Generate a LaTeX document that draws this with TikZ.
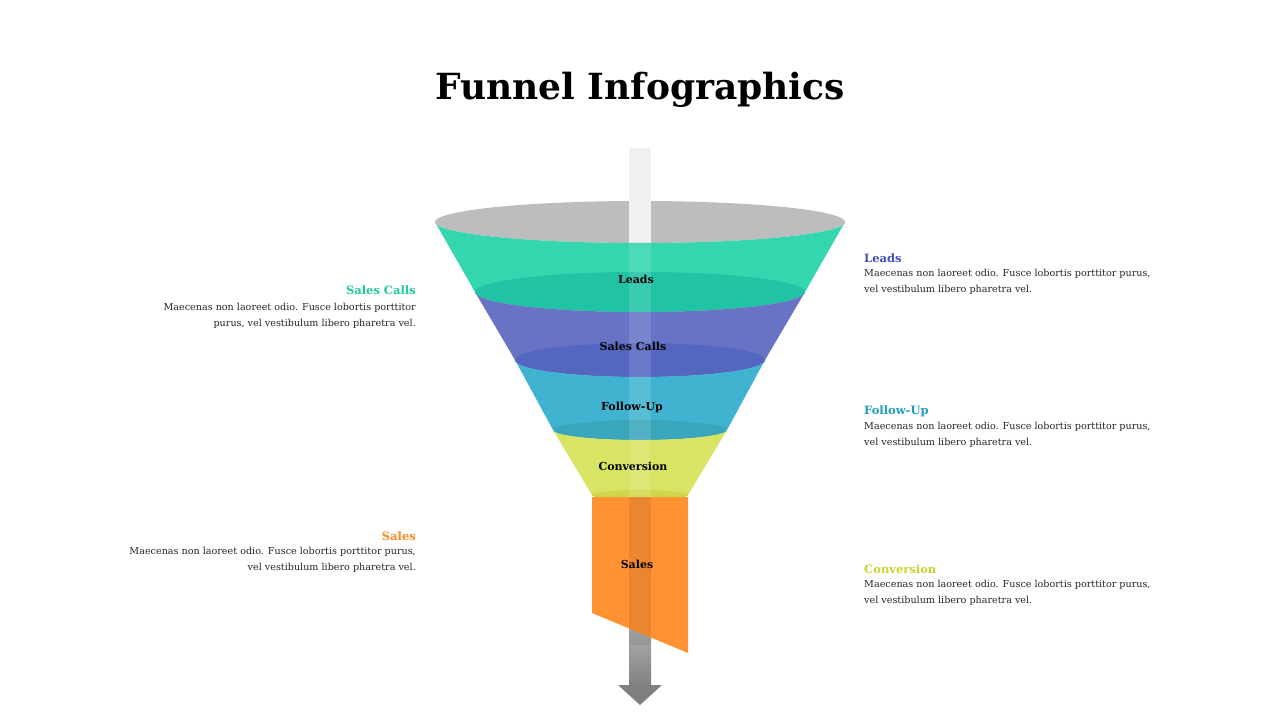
\documentclass[tikz,border=0pt]{standalone}
\usepackage{fontspec}
\setmainfont{DejaVu Serif}
\definecolor{leadsC}{HTML}{34D6B0}
\definecolor{leadsD}{HTML}{20C4A4}
\definecolor{callsC}{HTML}{6873C6}
\definecolor{callsD}{HTML}{5566C0}
\definecolor{followC}{HTML}{40B3D0}
\definecolor{followD}{HTML}{3AA6BC}
\definecolor{convC}{HTML}{D8E464}
\definecolor{convD}{HTML}{D2D64C}
\definecolor{salesC}{HTML}{FF9232}
\definecolor{tCalls}{HTML}{1FCC9E}
\definecolor{tSales}{HTML}{FF8A1E}
\definecolor{tLeads}{HTML}{4050B8}
\definecolor{tFollow}{HTML}{1E9EC0}
\definecolor{tConv}{HTML}{C8D430}
\tikzset{
  stagelabel/.style={font=\bfseries\fontsize{11}{13}\selectfont},
  headR/.style={anchor=west,font=\bfseries\fontsize{11.5}{14}\selectfont},
  headL/.style={anchor=east,font=\bfseries\fontsize{11.5}{14}\selectfont},
  bodyR/.style={anchor=north west,align=left,font=\fontsize{9.6}{16}\selectfont,text=black!85},
  bodyL/.style={anchor=north east,align=right,font=\fontsize{9.6}{16}\selectfont,text=black!85},
}
\newcommand{\lorem}{Maecenas non laoreet odio. Fusce lobortis porttitor purus,\\vel vestibulum libero pharetra vel.}
\begin{document}
\begin{tikzpicture}[x=1pt,y=-1pt,inner sep=0pt]
\useasboundingbox (0,0) rectangle (1280,720);
\fill[white] (0,0) rectangle (1280,720);
\node[font=\bfseries\fontsize{36}{40}\selectfont] (title) at (640,90) {Funnel Infographics};
% bar above and below
\fill[black!6] (629,148) rectangle (651,222);
\shade[top color=black!22,bottom color=black!50] (629,600) rectangle (651,686);
\fill[black!50] (618,685) -- (662,685) -- (640,705) -- cycle;
% top rim
\fill[black!26] (640,222) ellipse[x radius=205,y radius=21];
\fill[black!6] (629,201) rectangle (651,243);
% stages
\fill[leadsC] (435,222) -- (475,292) arc[start angle=180,end angle=0,x radius=165,y radius=20]
  -- (845,222) arc[start angle=0,end angle=180,x radius=205,y radius=21] -- cycle;
\fill[leadsD] (640,292) ellipse[x radius=165,y radius=20];
\fill[callsC] (475,292) -- (515,360) arc[start angle=180,end angle=0,x radius=125,y radius=17]
  -- (765,360) -- (805,292) arc[start angle=0,end angle=180,x radius=165,y radius=20] -- cycle;
\fill[callsD] (640,360) ellipse[x radius=125,y radius=17];
\fill[followC] (515,360) -- (553,430) arc[start angle=180,end angle=0,x radius=87,y radius=10]
  -- (765,360) arc[start angle=0,end angle=180,x radius=125,y radius=17] -- cycle;
\fill[followD] (640,430) ellipse[x radius=87,y radius=10];
\fill[convC] (553,430) -- (592,495) arc[start angle=180,end angle=0,x radius=48,y radius=5]
  -- (727,430) arc[start angle=0,end angle=180,x radius=87,y radius=10] -- cycle;
\fill[convD] (640,495) ellipse[x radius=48,y radius=5];
\fill[salesC] (592,497) -- (688,497) -- (688,653) -- (592,613) -- cycle;
% bar through the funnel
\fill[white,opacity=.12] (629,243) rectangle (651,497);
\fill[black,opacity=.08] (629,497) rectangle (651,645);
% stage labels
\node[stagelabel] (leads) at (636,279) {Leads};
\node[stagelabel] (calls) at (633,346) {Sales Calls};
\node[stagelabel] (follow) at (632,407) {Follow-Up};
\node[stagelabel] (conv) at (633,466) {Conversion};
\node[stagelabel] (sales) at (637,564) {Sales};
% side texts
\node[headL,text=tCalls] (callsHead) at (416,290) {Sales Calls};
\node[bodyL] (callsText) at (416,303) {Maecenas non laoreet odio. Fusce lobortis porttitor\\purus, vel vestibulum libero pharetra vel.};
\node[headL,text=tSales] (salesHead) at (416,536) {Sales};
\node[bodyL] (salesText) at (416,547) {\lorem};
\node[headR,text=tLeads] (leadsHead) at (864,258) {Leads};
\node[bodyR] (leadsText) at (864,269) {\lorem};
\node[headR,text=tFollow] (followHead) at (864,411) {Follow-Up};
\node[bodyR] (followText) at (864,422) {\lorem};
\node[headR,text=tConv] (convHead) at (864,569) {Conversion};
\node[bodyR] (convText) at (864,580) {\lorem};
\end{tikzpicture}
\end{document}
